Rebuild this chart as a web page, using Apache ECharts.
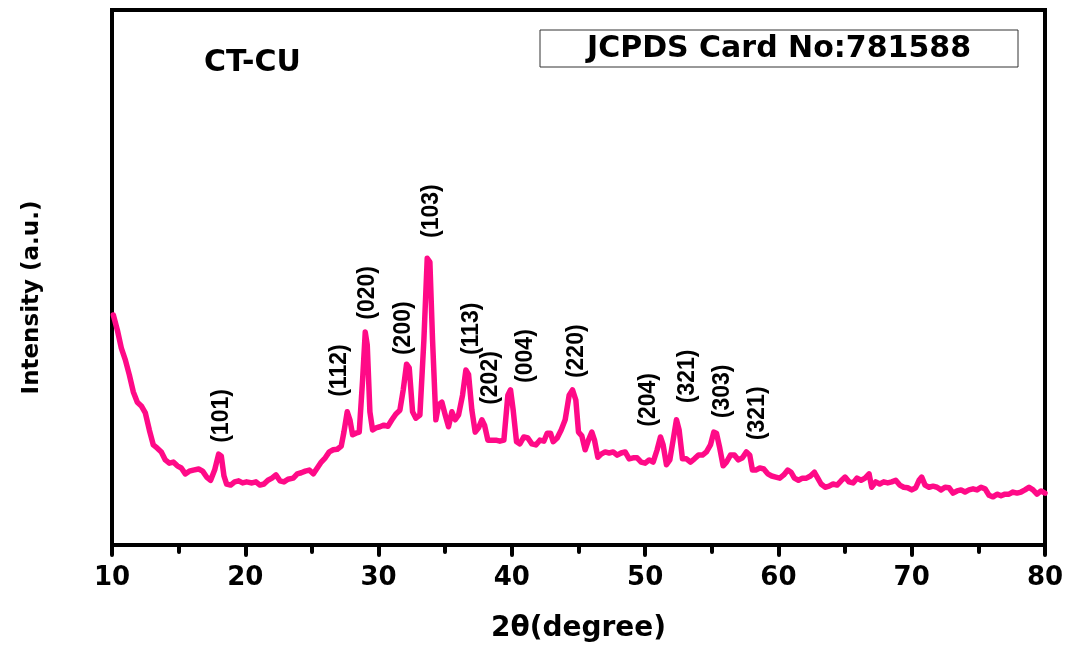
<!DOCTYPE html>
<html>
<head>
<meta charset="utf-8">
<script src="https://cdn.jsdelivr.net/npm/echarts@6/dist/echarts.min.js"></script>
<style>
html,body{margin:0;padding:0;background:#fff;}
#main{width:1070px;height:648px;}
</style>
</head>
<body>
<div id="main"></div>
<script>
// 2θ positions (degree)
var twoTheta = [10.1,10.4,10.7,11.0,11.3,11.6,11.9,12.2,12.5,12.8,13.1,13.4,13.7,14.0,14.3,14.6,14.9,15.2,15.5,15.8,16.1,16.5,16.8,17.1,17.4,17.7,18.0,18.2,18.4,18.6,18.9,19.2,19.5,19.8,20.1,20.5,20.8,21.1,21.4,21.7,22.0,22.3,22.6,22.9,23.2,23.6,23.9,24.2,24.5,24.8,25.1,25.4,25.7,26.0,26.3,26.6,26.9,27.2,27.4,27.65,27.85,28.05,28.3,28.55,28.8,29.0,29.15,29.35,29.55,29.8,30.1,30.4,30.7,31.0,31.3,31.6,31.85,32.1,32.3,32.55,32.8,33.1,33.4,33.65,33.85,34.05,34.3,34.5,34.75,35.0,35.25,35.5,35.75,36.0,36.3,36.55,36.75,37.0,37.25,37.5,37.75,37.95,38.2,38.5,38.8,39.1,39.4,39.7,39.9,40.1,40.35,40.6,40.9,41.2,41.5,41.8,42.1,42.4,42.65,42.9,43.1,43.4,43.7,44.0,44.3,44.55,44.8,45.0,45.25,45.5,45.75,46.0,46.2,46.45,46.7,47.0,47.3,47.6,47.9,48.2,48.5,48.8,49.1,49.4,49.7,50.0,50.3,50.6,50.9,51.15,51.35,51.6,51.85,52.1,52.35,52.55,52.8,53.1,53.4,53.7,54.0,54.3,54.6,54.9,55.15,55.35,55.6,55.85,56.1,56.4,56.7,57.0,57.3,57.6,57.85,58.05,58.3,58.6,58.9,59.2,59.5,59.8,60.1,60.4,60.7,60.95,61.2,61.5,61.8,62.1,62.4,62.7,62.95,63.2,63.5,63.8,64.1,64.4,64.7,65.0,65.3,65.6,65.9,66.2,66.5,66.8,67.0,67.3,67.6,67.9,68.2,68.5,68.8,69.1,69.4,69.7,70.0,70.3,70.55,70.75,71.0,71.3,71.6,71.9,72.2,72.5,72.8,73.1,73.4,73.7,74.0,74.3,74.6,74.9,75.2,75.5,75.8,76.1,76.4,76.7,77.0,77.3,77.6,77.9,78.2,78.5,78.8,79.1,79.4,79.7,80.0];
// intensity (a.u.)
var intensity = [43.0,40.2,36.8,34.6,31.8,28.6,26.7,26.0,24.7,21.5,18.7,18.1,17.4,15.9,15.3,15.5,14.8,14.4,13.3,13.8,14.0,14.2,13.8,12.7,12.1,14.0,17.0,16.6,12.9,11.4,11.2,11.8,12.0,11.6,11.8,11.6,11.8,11.2,11.4,12.1,12.5,13.1,12.0,11.8,12.3,12.5,13.3,13.5,13.8,14.0,13.3,14.4,15.5,16.3,17.4,17.8,17.9,18.5,21.1,24.9,23.4,20.6,20.9,21.1,30.8,39.8,37.4,24.9,21.5,21.9,22.1,22.4,22.2,23.4,24.5,25.2,29.0,33.8,33.1,24.9,23.7,24.3,38.3,53.6,52.9,38.3,23.4,26.2,26.7,24.3,22.1,24.9,23.4,24.3,28.0,32.7,31.9,25.2,21.1,21.9,23.4,22.4,19.6,19.6,19.6,19.4,19.6,28.0,29.0,25.2,19.3,18.9,20.2,20.0,18.9,18.7,19.6,19.4,20.9,20.9,19.3,20.0,21.5,23.4,28.0,29.0,27.1,21.1,20.4,17.8,19.6,21.1,19.6,16.4,17.0,17.4,17.2,17.4,16.8,17.2,17.4,16.1,16.3,16.3,15.5,15.3,15.9,15.5,17.8,20.2,18.7,15.0,15.9,19.6,23.4,21.5,16.1,16.1,15.5,16.1,16.8,16.8,17.4,18.7,21.1,20.9,18.1,14.8,15.5,16.8,16.8,15.9,16.3,17.4,16.8,14.0,14.0,14.4,14.2,13.3,12.9,12.7,12.5,13.1,14.0,13.6,12.5,12.1,12.5,12.5,12.9,13.6,12.5,11.4,10.8,11.0,11.4,11.2,12.0,12.7,11.8,11.6,12.5,12.1,12.5,13.3,10.8,11.8,11.4,11.8,11.6,11.8,12.1,11.2,10.8,10.7,10.3,10.7,12.1,12.7,11.2,10.8,11.0,10.8,10.3,10.8,10.7,9.7,10.1,10.3,9.9,10.3,10.5,10.3,10.8,10.5,9.3,9.0,9.5,9.2,9.5,9.5,9.9,9.7,9.9,10.3,10.8,10.3,9.5,10.1,9.7];
// peak (hkl) annotations: label text, 2θ position, label base height
var hklLabels = ['(101)','(112)','(020)','(200)','(103)','(113)','(202)','(004)','(220)','(204)','(321)','(303)','(321)'];
var hklTheta  = [18.26,27.05,29.15,31.86,33.96,36.96,38.39,41.02,44.85,50.26,53.19,55.82,58.45];
var hklHeight = [19.1,27.7,42.1,35.5,57.4,35.5,26.2,30.3,31.2,22.1,26.5,23.7,19.6];
// x tick labels
var xTicks = [10,20,30,40,50,60,70,80];

var lineData = twoTheta.map(function(t,i){ return [t, intensity[i]]; });
var labelData = hklLabels.map(function(s,i){ return {name:s, value:[hklTheta[i], hklHeight[i]]}; });

var FONT = 'DejaVu Sans';
var chart = echarts.init(document.getElementById('main'));
chart.setOption({
  animation:false,
  backgroundColor:'#fff',
  grid:{left:112,right:25,top:10,bottom:103,show:true,borderColor:'#000',borderWidth:4,outerBoundsMode:'none'},
  xAxis:{
    type:'value',min:10,max:80,interval:10,
    axisLine:{show:true,lineStyle:{color:'#000',width:4}},
    axisTick:{show:true,length:10,lineStyle:{color:'#000',width:4,cap:'round'}},
    minorTick:{show:true,splitNumber:2,length:7,lineStyle:{color:'#000',width:4,cap:'round'}},
    splitLine:{show:false},
    axisLabel:{margin:20,color:'#000',fontFamily:FONT,fontWeight:'bold',fontSize:26,
      formatter:function(v){ return xTicks.indexOf(v)>=0 ? String(v) : ''; }},
    name:'2θ(degree)',nameLocation:'middle',nameGap:70,
    nameTextStyle:{color:'#000',fontFamily:FONT,fontWeight:'bold',fontSize:28}
  },
  yAxis:{
    type:'value',min:0,max:100,
    axisLine:{show:true,lineStyle:{color:'#000',width:4}},
    axisTick:{show:false},axisLabel:{show:false},splitLine:{show:false},
    name:'Intensity (a.u.)',nameLocation:'middle',nameGap:68,
    nameTextStyle:{color:'#000',fontFamily:FONT,fontWeight:'bold',fontSize:23,padding:[0,0,0,-40]}
  },
  series:[
    {type:'line',data:lineData,showSymbol:false,symbol:'none',
     lineStyle:{color:'#ff0a87',width:5.5,join:'round',cap:'round'},z:3},
    {type:'scatter',data:labelData,symbolSize:0,z:4,itemStyle:{opacity:1},
     label:{show:true,position:'inside',rotate:90,align:'left',verticalAlign:'middle',opacity:1,
       formatter:'{b}',color:'#000',textBorderWidth:0,fontFamily:'Liberation Sans',fontWeight:'bold',fontSize:23}}
  ],
  graphic:[
    {type:'text',left:204,top:48,style:{text:'CT-CU',fontFamily:FONT,fontWeight:'bold',fontSize:30,fill:'#000'}},
    {type:'rect',shape:{x:540,y:30,width:478,height:37},style:{fill:'#fff',stroke:'#333',lineWidth:1}},
    {type:'text',x:779,y:49,style:{text:'JCPDS Card No:781588',fontFamily:FONT,fontWeight:'bold',fontSize:30,fill:'#000',align:'center',verticalAlign:'middle'}}
  ]
});
</script>
</body>
</html>
